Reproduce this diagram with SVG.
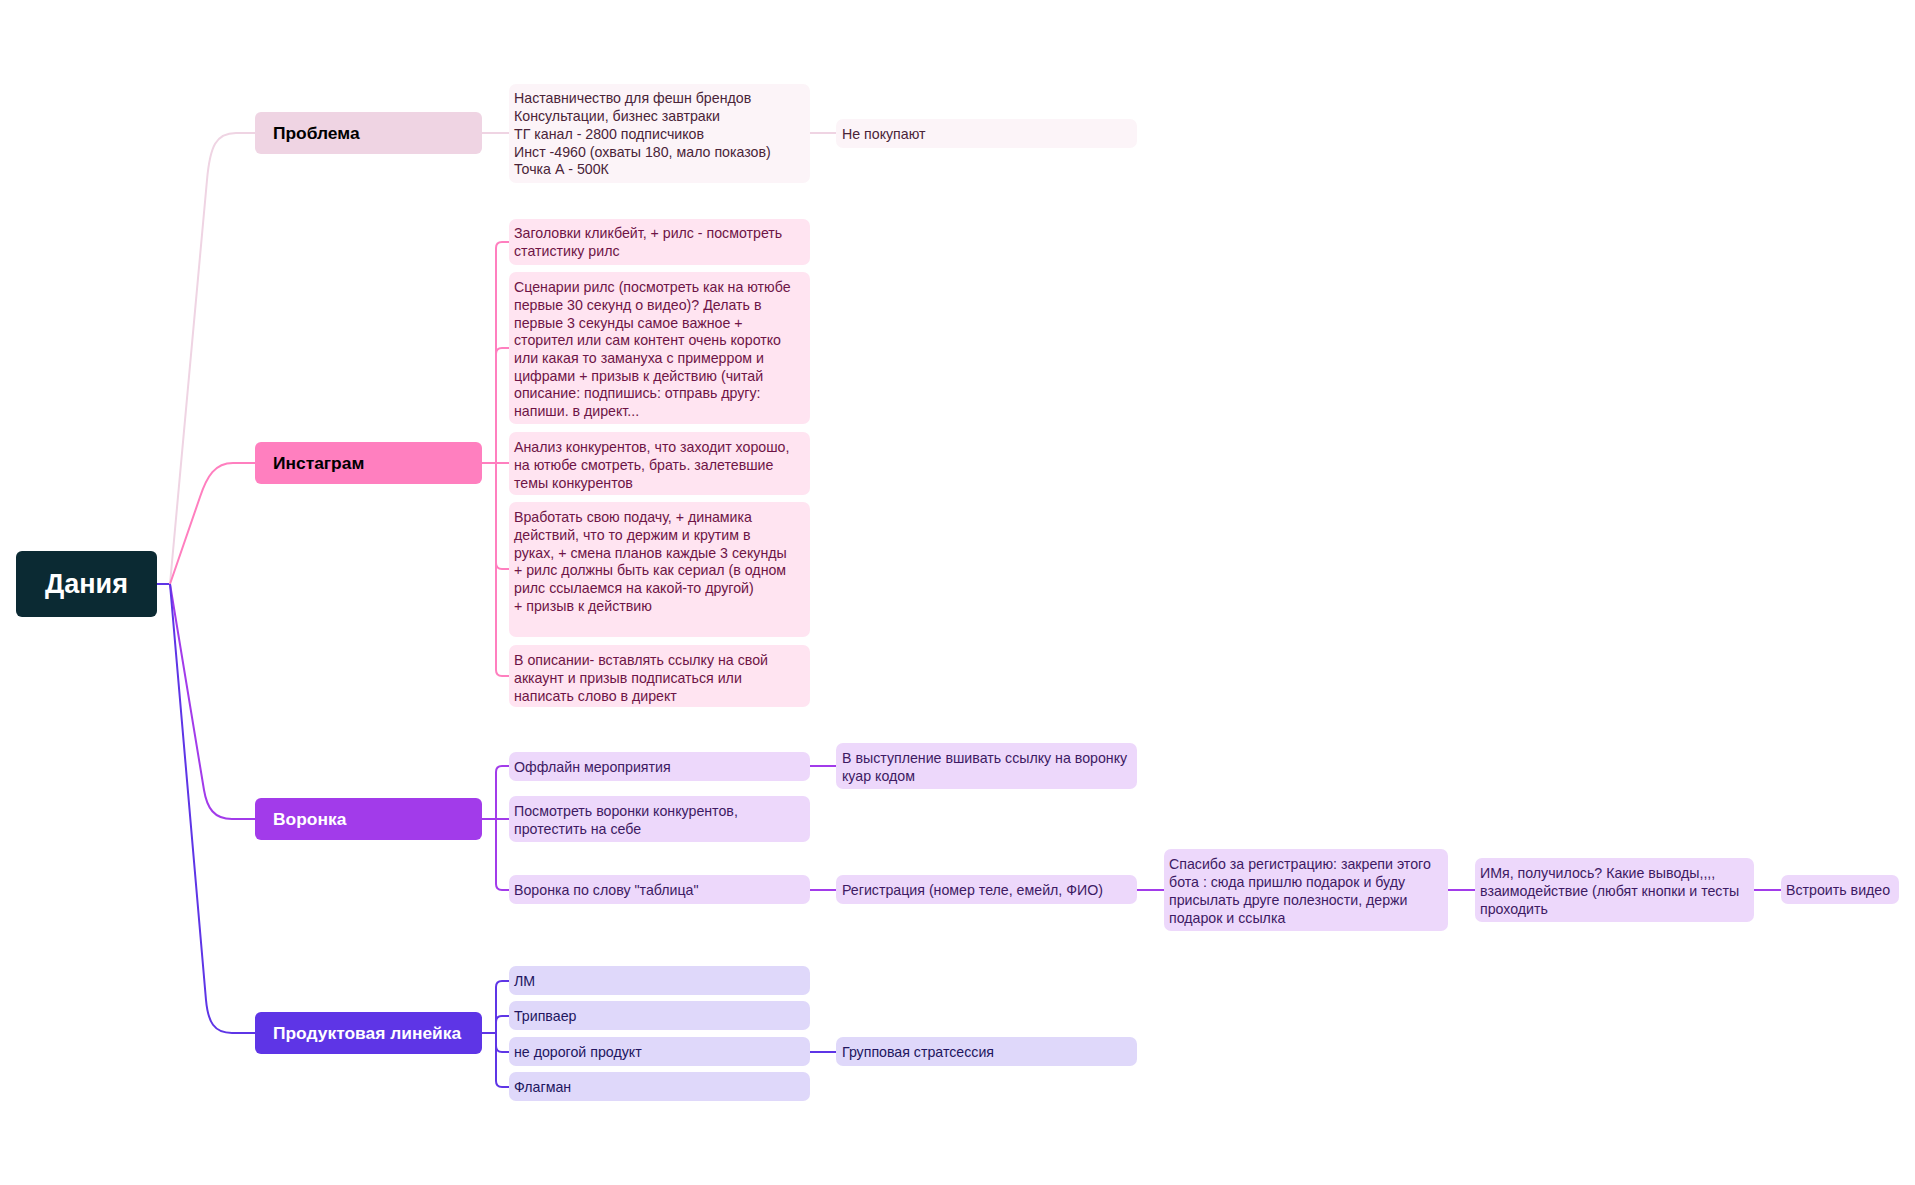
<svg xmlns="http://www.w3.org/2000/svg" width="1915" height="1185" viewBox="0 0 1915 1185">
<style>
text{font-family:"Liberation Sans",Arial,sans-serif;}
.root{font-size:27px;font-weight:bold;fill:#ffffff;}
.l1{font-size:17.4px;font-weight:bold;}
.t{font-size:14.2px;transform:translate(0px,1.2px);}
.c{fill:none;stroke-width:2;}
.pb{stroke:#EFD4E3;}
.ig{stroke:#FF7FBF;}
.vr{stroke:#A23BEA;}
.pr{stroke:#5E35E6;}
.tp{fill:#4A2438;}
.ti{fill:#6E1446;}
.tv{fill:#3D1A63;}
.tr{fill:#221660;}
.fp{fill:#FCF4F8;}
.fi{fill:#FFE4F1;}
.fv{fill:#EDD8FB;}
.fr{fill:#DFD8FA;}
</style>
<rect width="1915" height="1185" fill="#ffffff"/>
<g id="connectors">
<path class="c pr" d="M157,584 L170,584"/>
<path class="c pb" d="M170,584 L207,180 C210,146 216,133 236,133 L255,133"/>
<path class="c ig" d="M170,584 L200,497 C207,476 215,463 233,463 L255,463"/>
<path class="c vr" d="M170,584 L204,790 C207,808 214,819 232,819 L255,819"/>
<path class="c pr" d="M170,584 L206,1000 C208,1022 214,1033 232,1033 L255,1033"/>
<path class="c pb" d="M482,133 L509,133"/>
<path class="c pb" d="M810,133 L836,133"/>
<path class="c ig" d="M482,463 L509,463"/>
<path class="c ig" d="M496,463 L496,248 Q496,242 502,242 L509,242"/>
<path class="c ig" d="M496,463 L496,354 Q496,348 502,348 L509,348"/>
<path class="c ig" d="M496,463 L496,563 Q496,569 502,569 L509,569"/>
<path class="c ig" d="M496,463 L496,670 Q496,676 502,676 L509,676"/>
<path class="c vr" d="M482,819 L509,819"/>
<path class="c vr" d="M496,819 L496,772 Q496,766 502,766 L509,766"/>
<path class="c vr" d="M496,819 L496,884 Q496,890 502,890 L509,890"/>
<path class="c vr" d="M810,766 L836,766"/>
<path class="c vr" d="M810,890 L836,890"/>
<path class="c vr" d="M1137,890 L1164,890"/>
<path class="c vr" d="M1448,890 L1475,890"/>
<path class="c vr" d="M1754,890 L1781,890"/>
<path class="c pr" d="M482,1033 L496,1033"/>
<path class="c pr" d="M496,1033 L496,987 Q496,981 502,981 L509,981"/>
<path class="c pr" d="M496,1033 L496,1022 Q496,1016 502,1016 L509,1016"/>
<path class="c pr" d="M496,1033 L496,1046 Q496,1052 502,1052 L509,1052"/>
<path class="c pr" d="M496,1033 L496,1081 Q496,1087 502,1087 L509,1087"/>
<path class="c pr" d="M810,1052 L836,1052"/>
</g>
<g id="n-root"><rect x="16" y="551" width="141" height="66" rx="6" fill="#0B2A33"/><text class="root" x="86.5" y="593" text-anchor="middle">Дания</text></g>
<g id="n-problema"><rect x="255" y="112" width="227" height="42" rx="6" fill="#EFD4E3"/><text class="l1" x="273" y="139" fill="#000">Проблема</text></g>
<g id="n-instagram"><rect x="255" y="442" width="227" height="42" rx="6" fill="#FF7FBF"/><text class="l1" x="273" y="469" fill="#000">Инстаграм</text></g>
<g id="n-voronka"><rect x="255" y="798" width="227" height="42" rx="6" fill="#A23BEA"/><text class="l1" x="273" y="825" fill="#fff">Воронка</text></g>
<g id="n-produkt"><rect x="255" y="1012" width="227" height="42" rx="6" fill="#5E35E6"/><text class="l1" x="273" y="1039" fill="#fff">Продуктовая линейка</text></g>

<g id="n-p1"><rect class="fp" x="509" y="84" width="301" height="99" rx="7"/>
<text class="t tp" x="514" y="102">Наставничество для фешн брендов</text>
<text class="t tp" x="514" y="120">Консультации, бизнес завтраки</text>
<text class="t tp" x="514" y="138">ТГ канал - 2800 подписчиков</text>
<text class="t tp" x="514" y="156">Инст -4960 (охваты 180,  мало показов)</text>
<text class="t tp" x="514" y="173">Точка А - 500К</text></g>
<g id="n-p2"><rect class="fp" x="836" y="119" width="301" height="29" rx="7"/><text class="t tp" x="842" y="138">Не покупают</text></g>

<g id="n-i1"><rect class="fi" x="509" y="219" width="301" height="46" rx="7"/>
<text class="t ti" x="514" y="237">Заголовки кликбейт, + рилс - посмотреть</text>
<text class="t ti" x="514" y="255">статистику рилс</text></g>
<g id="n-i2"><rect class="fi" x="509" y="272" width="301" height="152" rx="7"/>
<text class="t ti" x="514" y="291">Сценарии рилс (посмотреть как на ютюбе</text>
<text class="t ti" x="514" y="308.7">первые 30 секунд о видео)? Делать в</text>
<text class="t ti" x="514" y="326.4">первые 3 секунды самое важное +</text>
<text class="t ti" x="514" y="344.1">сторител или сам контент очень коротко</text>
<text class="t ti" x="514" y="361.8">или какая то замануха с примерром и</text>
<text class="t ti" x="514" y="379.5">цифрами + призыв к действию (читай</text>
<text class="t ti" x="514" y="397.2">описание: подпишись: отправь другу:</text>
<text class="t ti" x="514" y="414.9">напиши. в директ...</text></g>
<g id="n-i3"><rect class="fi" x="509" y="432" width="301" height="63" rx="7"/>
<text class="t ti" x="514" y="451">Анализ конкурентов, что заходит хорошо,</text>
<text class="t ti" x="514" y="468.7">на ютюбе смотреть, брать. залетевшие</text>
<text class="t ti" x="514" y="486.4">темы конкурентов</text></g>
<g id="n-i4"><rect class="fi" x="509" y="502" width="301" height="135" rx="7"/>
<text class="t ti" x="514" y="521">Вработать свою подачу, + динамика</text>
<text class="t ti" x="514" y="538.7">действий, что то держим и крутим в</text>
<text class="t ti" x="514" y="556.4">руках, + смена планов каждые 3 секунды</text>
<text class="t ti" x="514" y="574.1">+ рилс должны быть как сериал (в одном</text>
<text class="t ti" x="514" y="591.8">рилс ссылаемся на какой-то другой)</text>
<text class="t ti" x="514" y="609.5">+ призыв к действию</text></g>
<g id="n-i5"><rect class="fi" x="509" y="645" width="301" height="62" rx="7"/>
<text class="t ti" x="514" y="664">В описании- вставлять ссылку на свой</text>
<text class="t ti" x="514" y="681.7">аккаунт и призыв подписаться или</text>
<text class="t ti" x="514" y="699.4">написать слово в директ</text></g>

<g id="n-v1"><rect class="fv" x="509" y="752" width="301" height="29" rx="7"/><text class="t tv" x="514" y="771">Оффлайн мероприятия</text></g>
<g id="n-v2"><rect class="fv" x="509" y="796" width="301" height="46" rx="7"/>
<text class="t tv" x="514" y="815">Посмотреть воронки конкурентов,</text>
<text class="t tv" x="514" y="833">протестить на себе</text></g>
<g id="n-v3"><rect class="fv" x="509" y="875" width="301" height="29" rx="7"/><text class="t tv" x="514" y="894">Воронка по слову "таблица"</text></g>
<g id="n-v1a"><rect class="fv" x="836" y="743" width="301" height="46" rx="7"/>
<text class="t tv" x="842" y="762">В выступление вшивать ссылку на воронку</text>
<text class="t tv" x="842" y="780">куар кодом</text></g>
<g id="n-v3a"><rect class="fv" x="836" y="875" width="301" height="29" rx="7"/><text class="t tv" x="842" y="894">Регистрация (номер теле, емейл, ФИО)</text></g>
<g id="n-v3b"><rect class="fv" x="1164" y="849" width="284" height="82" rx="7"/>
<text class="t tv" x="1169" y="868">Спасибо за регистрацию: закрепи этого</text>
<text class="t tv" x="1169" y="886">бота : сюда пришлю подарок и буду</text>
<text class="t tv" x="1169" y="904">присылать друге полезности, держи</text>
<text class="t tv" x="1169" y="922">подарок и ссылка</text></g>
<g id="n-v3c"><rect class="fv" x="1475" y="858" width="279" height="64" rx="7"/>
<text class="t tv" x="1480" y="877">ИМя, получилось? Какие выводы,,,,</text>
<text class="t tv" x="1480" y="895">взаимодействие (любят кнопки и тесты</text>
<text class="t tv" x="1480" y="913">проходить</text></g>
<g id="n-v3d"><rect class="fv" x="1781" y="875" width="118" height="29" rx="7"/><text class="t tv" x="1786" y="894">Встроить видео</text></g>

<g id="n-r1"><rect class="fr" x="509" y="966" width="301" height="29" rx="7"/><text class="t tr" x="514" y="985">ЛМ</text></g>
<g id="n-r2"><rect class="fr" x="509" y="1001" width="301" height="29" rx="7"/><text class="t tr" x="514" y="1020">Трипваер</text></g>
<g id="n-r3"><rect class="fr" x="509" y="1037" width="301" height="29" rx="7"/><text class="t tr" x="514" y="1056">не дорогой продукт</text></g>
<g id="n-r4"><rect class="fr" x="509" y="1072" width="301" height="29" rx="7"/><text class="t tr" x="514" y="1091">Флагман</text></g>
<g id="n-r3a"><rect class="fr" x="836" y="1037" width="301" height="29" rx="7"/><text class="t tr" x="842" y="1056">Групповая стратсессия</text></g>
</svg>
